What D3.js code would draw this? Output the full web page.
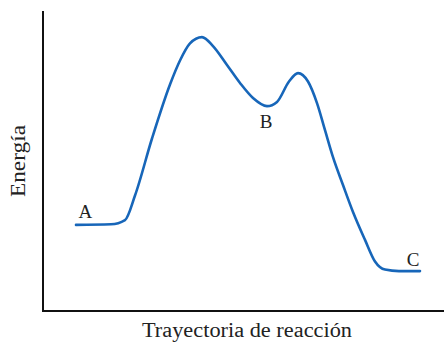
<!DOCTYPE html>
<html>
<head>
<meta charset="utf-8">
<script src="https://cdn.jsdelivr.net/npm/d3@7"></script>
<style>
  body { margin: 0; background: #fff; }
  text { font-family: "Liberation Serif", "DejaVu Serif", serif; fill: #222; }
</style>
</head>
<body>
<div id="chart"></div>
<script>
// reaction coordinate (0-100) and energy (0-100)
const reactionX = [8.25, 17, 20.5, 23, 27.25, 31.75, 34.25, 36.75, 39.75, 42.5, 46, 49.25, 52.5, 56,
  58.5, 61.5, 63.75, 66.25, 68.5, 70.5, 72.5, 75, 77.5, 80.5, 83, 85.5, 89, 94.25];
const energy = [28.7, 28.9, 30.3, 38.5, 57.5, 75.5, 83.5, 89.2, 91.3, 88.3, 82, 76, 71, 68.3,
  69.7, 76.5, 79.3, 76.5, 69.3, 60.3, 51.3, 42, 33, 23.7, 16.5, 13.8, 13.3, 13.3];

const pointLabels = ['A', 'B', 'C'];
const labelX = [10.6, 55.75, 92.5];
const labelY = [31, 61, 15];

const width = 444;
const height = 343;

const svg = d3.select('#chart')
  .append('svg')
  .attr('width', width)
  .attr('height', height);

const x = d3.scaleLinear().domain([0, 100]).range([43, 443]);
const y = d3.scaleLinear().domain([0, 100]).range([311, 11]);

const data = reactionX.map((d, i) => ({ x: d, y: energy[i] }));

const line = d3.line()
  .x(d => x(d.x))
  .y(d => y(d.y))
  .curve(d3.curveMonotoneX);

svg.append('path')
  .datum(data)
  .attr('d', line)
  .attr('fill', 'none')
  .attr('stroke', '#1766b9')
  .attr('stroke-width', 2.6)
  .attr('stroke-linecap', 'round');

// L-shaped axes, no ticks
svg.append('path')
  .attr('d', `M${x(0)},${y(100)}V${y(0)}H${width}`)
  .attr('fill', 'none')
  .attr('stroke', '#111')
  .attr('stroke-width', 2);

svg.selectAll('.pt-label')
  .data(pointLabels)
  .enter()
  .append('text')
  .attr('class', 'pt-label')
  .attr('x', (d, i) => x(labelX[i]))
  .attr('y', (d, i) => y(labelY[i]))
  .attr('text-anchor', 'middle')
  .style('font-size', '19px')
  .text(d => d);

svg.append('text')
  .attr('x', 247)
  .attr('y', 337)
  .attr('text-anchor', 'middle')
  .attr('textLength', 210)
  .attr('lengthAdjust', 'spacingAndGlyphs')
  .style('font-size', '20px')
  .text('Trayectoria de reacción');

svg.append('text')
  .attr('transform', 'translate(25,161) rotate(-90)')
  .attr('text-anchor', 'middle')
  .attr('textLength', 72)
  .attr('lengthAdjust', 'spacingAndGlyphs')
  .style('font-size', '20px')
  .text('Energía');
</script>
</body>
</html>
